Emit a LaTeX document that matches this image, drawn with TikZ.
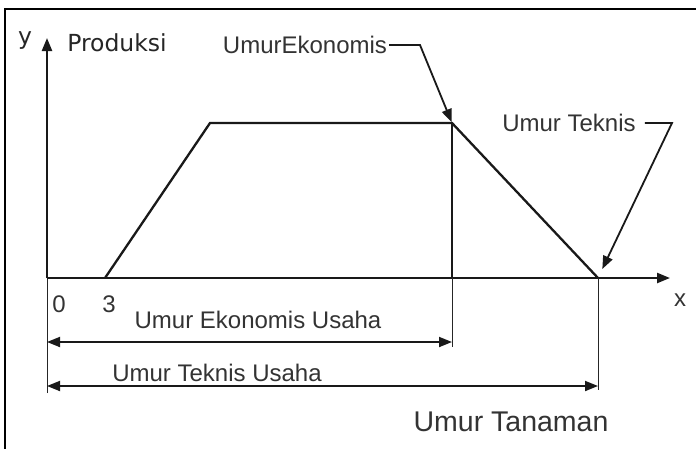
\documentclass[tikz,border=0pt]{standalone}
\usepackage{fontspec}
\setmainfont{Liberation Sans}
\newfontfamily\axisfont{DejaVu Sans}
\usetikzlibrary{arrows.meta}

\begin{document}
\begin{tikzpicture}[x=1pt,y=-1pt,
  lbl/.style={inner sep=0pt, text=black!80, font=\fontsize{24}{24}\selectfont},
  biglbl/.style={inner sep=0pt, text=black!80, font=\fontsize{28.5}{28.5}\selectfont},
  axlbl/.style={inner sep=0pt, text=black!85, font=\axisfont\fontsize{23.5}{23.5}\selectfont},
  heavy/.style={line width=2.3pt, black!90},
  light/.style={line width=1pt, black!85},
  lead/.style={line width=1.8pt, black!90},
  dim/.style={line width=1.8pt, black!90},
  tip/.style={-{Triangle[length=13pt,width=10pt]}},
  bothtips/.style={{Triangle[length=13pt,width=10pt]}-{Triangle[length=13pt,width=10pt]}},
]
\useasboundingbox (0,0) rectangle (696,448);
\fill[white] (0,0) rectangle (696,448);

% outer frame (open at right and bottom)
\draw[line width=2.5pt] (5,460) |- (700,9);

% key points of the curve
\coordinate (O) at (47,278);
\coordinate (ytop) at (47,38);
\coordinate (ybot) at (47,393);
\coordinate (xend) at (670,278);
\coordinate (s) at (105,278);
\coordinate (p1) at (210,123);
\coordinate (p2) at (452,123);
\coordinate (e) at (598,278);
\coordinate (ebase) at (452,278);
\coordinate (ekodrop) at (452,347);
\coordinate (tekdrop) at (598,390);
\coordinate (ekoL) at (47,342);
\coordinate (ekoR) at (452,342);
\coordinate (tekL) at (47,386);
\coordinate (tekR) at (598,386);

% axes
\draw[light] (ybot) -- (O);
\draw[heavy, tip] (O) -- (ytop);
\draw[heavy, tip] (O) -- (xend);

% production curve
\draw[heavy] (s) -- (p1) -- (p2) -- (e);
\draw[heavy] (p2) -- (ebase);
\draw[light] (ebase) -- (ekodrop);
\draw[light] (e) -- (tekdrop);

% dimension arrows
\draw[dim, bothtips] (ekoL) -- (ekoR);
\draw[dim, bothtips] (tekL) -- (tekR);

% labels
\node[axlbl] (ylab) at (25,41) {y};
\node[axlbl] (prod) at (117,43) {Produksi};
\node[lbl] (xlab) at (680,300) {x};
\node[lbl] (zero) at (59,304) {0};
\node[lbl] (three) at (109,304) {3};
\node[lbl] (ekous) at (258,320) {Umur Ekonomis Usaha};
\node[lbl] (tekus) at (217,373) {Umur Teknis Usaha};
\node[biglbl] (tanam) at (511,422) {Umur Tanaman};
\node[lbl] (ueko) at (305,45) {UmurEkonomis};
\node[lbl] (utek) at (569,123) {Umur Teknis};

% leader arrows
\coordinate (ekobend) at (420,45);
\coordinate (tekbend) at (672,123);
\draw[lead, tip, shorten >=1pt] ([xshift=2pt]ueko.east) -- (ekobend) -- (p2);
\draw[lead, tip, shorten >=10pt] ([xshift=9pt]utek.east) -- (tekbend) -- (e);
\end{tikzpicture}
\end{document}
